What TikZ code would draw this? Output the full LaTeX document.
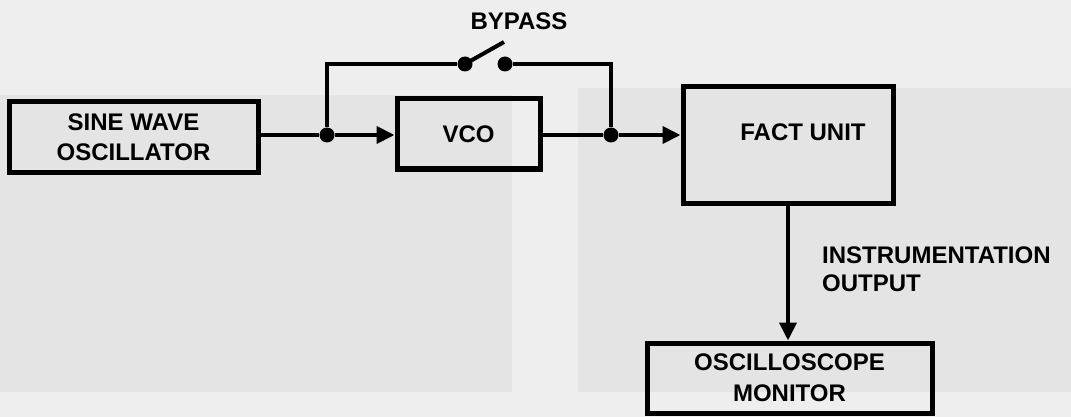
\documentclass[tikz,border=0pt]{standalone}
\usepackage{fontspec}
\setmainfont{Liberation Sans}
\usetikzlibrary{arrows.meta,positioning}
\definecolor{paper}{RGB}{238,238,238}
\definecolor{patch}{RGB}{228,228,228}
\tikzset{BLOCK/.style={rectangle,draw,line width=5pt,align=center,inner sep=0pt,font=\bfseries\fontsize{24}{30}\selectfont}}
\tikzset{LABEL/.style={inner sep=0pt,font=\bfseries\fontsize{24}{28}\selectfont}}
\tikzset{WIRE/.style={line width=4pt}}
\tikzset{ARROW/.style={WIRE,-{Triangle[length=18pt,width=17pt]}}}
\tikzset{DOT/.style={circle,fill=black,inner sep=0pt,minimum size=15pt}}

\begin{document}
\begin{tikzpicture}[x=1pt,y=-1pt]

\useasboundingbox (0,0) rectangle (1071,417);
\fill[paper] (0,0) rectangle (1071,417);
\fill[patch] (0,95) rectangle (512,392);
\fill[patch] (578,88) rectangle (1071,392);

\node[BLOCK,minimum width=249pt,minimum height=71pt] (n_sine) at (133.5,137) {SINE WAVE\\OSCILLATOR};
\node[BLOCK,minimum width=143pt,minimum height=70pt] (n_vco) at (468.5,134) {VCO};
\node[BLOCK,minimum width=210pt,minimum height=116pt] (n_fact) at (788,145) {};
\node[LABEL] (t_fact) at (803,132) {FACT UNIT};
\node[BLOCK,minimum width=285pt,minimum height=70pt,font=\bfseries\fontsize{24}{31}\selectfont] (n_osc) at (789.5,378) {OSCILLOSCOPE\\MONITOR};

\node[DOT] (j_in) at (327,135) {};
\node[DOT] (j_out) at (611,135) {};
\node[DOT] (s_a) at (465,64) {};
\node[DOT] (s_b) at (505,64) {};
\coordinate (c_lever) at (504,42);

\draw[WIRE] (n_sine.east|-j_in) -- (j_in);
\draw[ARROW] (j_in) -- (n_vco.west|-j_in);
\draw[WIRE] (n_vco.east|-j_out) -- (j_out);
\draw[ARROW] (j_out) -- (n_fact.west|-j_out);
\draw[WIRE] (j_in) |- (s_a);
\draw[WIRE] (s_b) -| (j_out);
\draw[WIRE] (s_a.center) -- (c_lever);
\draw[ARROW] (n_fact.south) -- (n_fact.south|-n_osc.north);

\node[LABEL] (t_bypass) at (519,21) {BYPASS};
\node[LABEL,align=left,anchor=west] (t_instr) at (822,269) {INSTRUMENTATION\\OUTPUT};

\end{tikzpicture}
\end{document}
